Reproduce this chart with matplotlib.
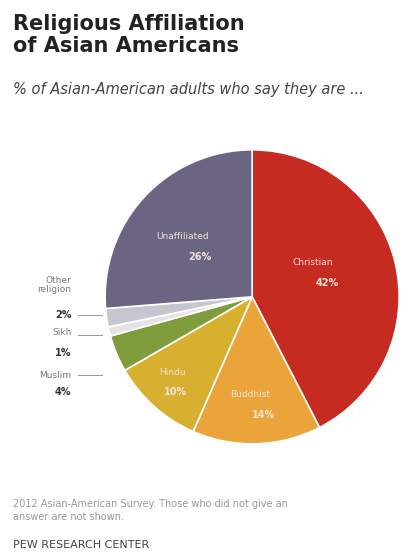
import matplotlib.pyplot as plt
import numpy as np

religions = ['Christian', 'Buddhist', 'Hindu', 'Muslim', 'Sikh', 'Other\nreligion', 'Unaffiliated']
shares = [42, 14, 10, 4, 1, 2, 26]
colors = ['#c62b22', '#eba43a', '#d6b02e', '#7e9c3c', '#e4e4e6', '#c6c6ce', '#6b6483']


def main():
    fig = plt.figure(figsize=(4.09, 5.59), dpi=100)
    fig.patch.set_facecolor('white')

    fig.text(0.032, 0.975, 'Religious Affiliation\nof Asian Americans', fontsize=15,
             fontweight='bold', color='#222222', va='top', linespacing=1.15)
    fig.text(0.032, 0.839, '% of Asian-American adults who say they are ...', fontsize=10.5,
             style='italic', color='#444444', va='center')

    ax = fig.add_axes([0.257, 0.206, 0.719, 0.526])
    wedges, _ = ax.pie(shares, colors=colors, startangle=90, counterclock=False,
                       radius=1.0, wedgeprops=dict(edgecolor='white', linewidth=1.2))
    ax.set_xlim(-1, 1)
    ax.set_ylim(-1, 1)
    ax.set_aspect('equal')
    ax.axis('off')

    # labels inside big slices: (name x, name y, pct x, pct y)
    inside = {0: (0.415, 0.231, 0.51, 0.095),
              1: (-0.014, -0.667, 0.075, -0.803),
              2: (-0.544, -0.517, -0.524, -0.646),
              6: (-0.476, 0.408, -0.354, 0.272)}
    for i, (x, y, px, py) in inside.items():
        ax.text(x, y, religions[i], ha='center', va='center', fontsize=6.5,
                color='#f3e2d8')
        ax.text(px, py, f'{shares[i]}%', ha='center', va='center', fontsize=7,
                fontweight='bold', color='#f3e2d8')

    # labels outside small slices: (name y, pct y, leader y) in figure coords
    outside = {5: (0.490, 0.436, 0.436),
               4: (0.406, 0.369, 0.401),
               3: (0.329, 0.299, 0.329)}
    for i, (ny, py, ly) in outside.items():
        fig.text(0.175, ny, religions[i], ha='right', va='center', fontsize=6.5,
                 color='#777777', linespacing=1.1)
        fig.text(0.175, py, f'{shares[i]}%', ha='right', va='center', fontsize=7,
                 fontweight='bold', color='#333333')
        fig.add_artist(plt.Line2D([0.19, 0.25], [ly, ly], color='#999999', linewidth=0.7))

    fig.text(0.032, 0.087, '2012 Asian-American Survey. Those who did not give an\n'
             'answer are not shown.', fontsize=7, color='#999999', va='center',
             linespacing=1.3)
    fig.text(0.032, 0.025, 'PEW RESEARCH CENTER', fontsize=8, color='#444444', va='center')

    plt.savefig('out.png', dpi=100)


if __name__ == '__main__':
    main()
